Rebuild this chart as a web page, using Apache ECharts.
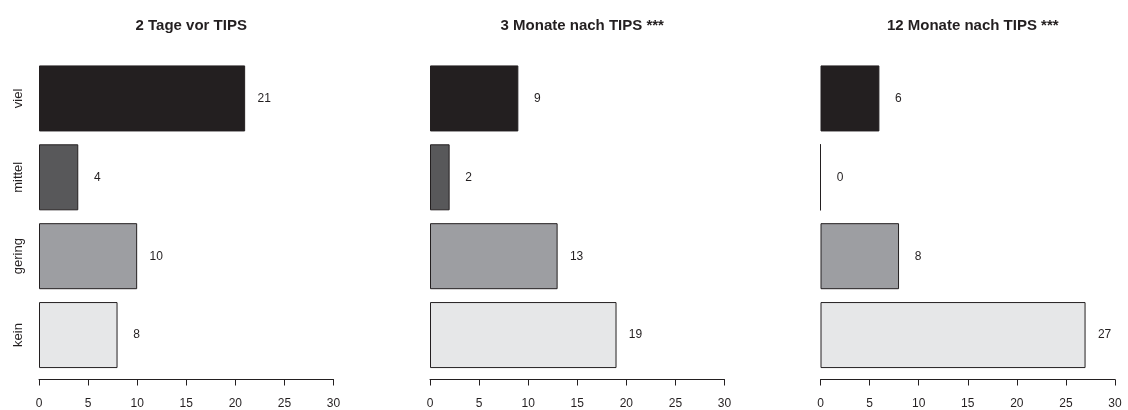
<!DOCTYPE html>
<html>
<head>
<meta charset="utf-8">
<script src="https://cdn.jsdelivr.net/npm/echarts@6/dist/echarts.min.js"></script>
<style>
  html, body { margin: 0; padding: 0; background: #ffffff; }
  #chart { width: 1128px; height: 410px; }
</style>
</head>
<body>
<div id="chart"></div>
<script>
// Categories (top to bottom) and counts per time point
const categories = ['viel', 'mittel', 'gering', 'kein'];
const panelTitles = ['2 Tage vor TIPS', '3 Monate nach TIPS ***', '12 Monate nach TIPS ***'];
const vorTips = [21, 4, 10, 8];
const monate3 = [9, 2, 13, 19];
const monate12 = [6, 0, 8, 27];
const xTicks = [0, 5, 10, 15, 20, 25, 30];

const panelValues = [vorTips, monate3, monate12];
const barColors = ['#231f20', '#58585a', '#9d9ea2', '#e6e7e8'];
const ink = '#231f20';
const font = 'Liberation Sans, Arial, Helvetica, sans-serif';

const panelLeft = [39, 430, 820.5];
const panelWidth = 294.5;
const gridTop = 59;
const gridHeight = 315.5;

const chart = echarts.init(document.getElementById('chart'), null, { renderer: 'canvas' });

const grids = [], xAxes = [], yAxes = [], series = [], titles = [];

panelValues.forEach((vals, i) => {
  grids.push({ left: panelLeft[i], top: gridTop, width: panelWidth, height: gridHeight, containLabel: false });
  titles.push({
    text: panelTitles[i],
    left: panelLeft[i] + panelWidth / 2,
    top: 13,
    textAlign: 'center',
    textStyle: { fontFamily: font, fontSize: 15, fontWeight: 'bold', color: ink }
  });
  xAxes.push({
    type: 'value', gridIndex: i,
    min: xTicks[0], max: xTicks[xTicks.length - 1], interval: 5,
    offset: 5,
    axisLine: { show: true, lineStyle: { color: ink, width: 1 } },
    axisTick: { show: true, length: 6, lineStyle: { color: ink, width: 1 } },
    axisLabel: { show: true, margin: 18, fontFamily: font, fontSize: 12, color: ink },
    splitLine: { show: false }
  });
  yAxes.push({
    type: 'category', gridIndex: i, data: categories, inverse: true,
    axisLine: { show: false }, axisTick: { show: false },
    axisLabel: {
      show: i === 0, rotate: 90, margin: 14,
      fontFamily: font, fontSize: 13, color: ink
    }
  });
  series.push({
    type: 'bar', xAxisIndex: i, yAxisIndex: i,
    barCategoryGap: '16.3%',
    data: vals.map((v, k) => ({
      value: v,
      itemStyle: { color: barColors[k], borderColor: ink, borderWidth: 1 }
    })),
    label: {
      show: true, position: 'right', distance: 19, align: 'center',
      fontFamily: font, fontSize: 12, color: ink,
      formatter: p => String(p.value)
    },
    silent: true, animation: false
  });
});

chart.setOption({
  backgroundColor: '#ffffff',
  animation: false,
  title: titles,
  grid: grids,
  xAxis: xAxes,
  yAxis: yAxes,
  series: series
});
</script>
</body>
</html>
